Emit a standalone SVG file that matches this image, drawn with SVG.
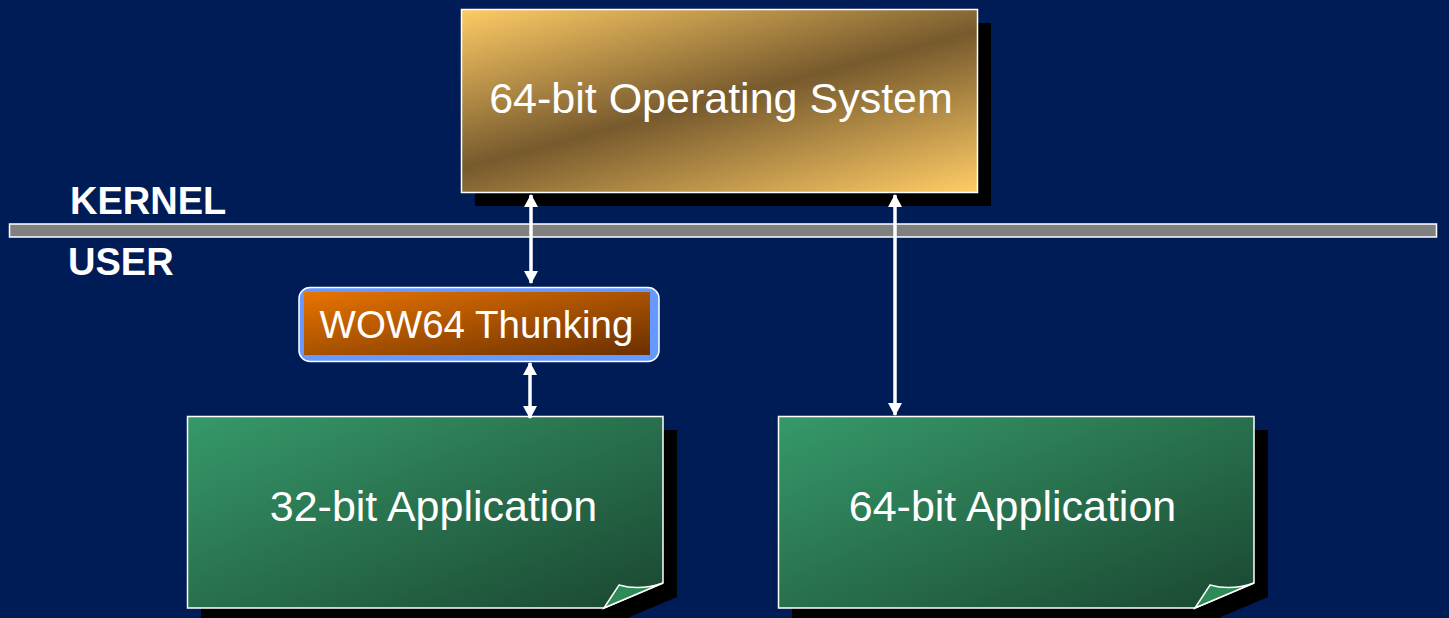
<svg xmlns="http://www.w3.org/2000/svg" width="1449" height="618" viewBox="0 0 1449 618">
  <defs>
    <linearGradient id="gold" gradientUnits="userSpaceOnUse" x1="679" y1="-50" x2="759" y2="250">
      <stop offset="0" stop-color="#FFCC66"/>
      <stop offset="0.5" stop-color="#775A2D"/>
      <stop offset="1" stop-color="#FFCC66"/>
    </linearGradient>
    <linearGradient id="green" x1="0" y1="0" x2="1" y2="1">
      <stop offset="0" stop-color="#36996A"/>
      <stop offset="1" stop-color="#1A4730"/>
    </linearGradient>
    <linearGradient id="orange" x1="0" y1="0" x2="1" y2="1">
      <stop offset="0" stop-color="#E87400"/>
      <stop offset="1" stop-color="#6A3000"/>
    </linearGradient>
    <marker id="ah" viewBox="0 0 13 14" refX="12" refY="7" markerWidth="13" markerHeight="14" markerUnits="userSpaceOnUse" orient="auto-start-reverse">
      <path d="M0,0 L13,7 L0,14 Z" fill="#FFFFFF"/>
    </marker>
    <style>
      .lbl { font-family: "Liberation Sans", Arial, sans-serif; fill: #FFFFFF; }
      .big { font-size: 43px; }
      .mid { font-size: 38.5px; }
      .bold { font-size: 38px; font-weight: bold; }
      .shadow { fill: #000000; }
      .edge { stroke: #FFFFFF; stroke-width: 1.5; }
      .conn { stroke: #FFFFFF; stroke-width: 3.5; fill: none; marker-start: url(#ah); marker-end: url(#ah); }
    </style>
  </defs>
  <rect width="1449" height="618" fill="#001C57"/>

  <g id="os">
    <rect class="shadow" x="475" y="23" width="516" height="183"/>
    <rect class="edge" x="461.5" y="9.5" width="516" height="183" fill="url(#gold)"/>
    <text class="lbl big" x="721" y="113" text-anchor="middle">64-bit Operating System</text>
  </g>

  <g id="divider">
    <rect x="9.5" y="224" width="1427" height="13" fill="#808080" stroke="#FFFFFF" stroke-width="1.5"/>
    <text class="lbl bold" x="70" y="214">KERNEL</text>
    <text class="lbl bold" x="68" y="275">USER</text>
  </g>

  <g id="wow64">
    <rect x="299" y="287.5" width="360" height="74" rx="11" fill="#6699FF" stroke="#FFFFFF" stroke-width="1.5"/>
    <rect x="304" y="292" width="346" height="63" fill="url(#orange)"/>
    <text class="lbl mid" x="476.5" y="338" text-anchor="middle">WOW64 Thunking</text>
  </g>

  <g id="app32">
    <path class="shadow" d="M201,430 H677 V597 L618,622 H201 Z"/>
    <path class="edge" d="M187.5,416.5 H663 V583 L604,608 H187.5 Z" fill="url(#green)"/>
    <path class="edge" d="M604,608 L619,585 Q640,591 663,583 Z" fill="#2E8B57"/>
    <text class="lbl big" x="433.5" y="521" text-anchor="middle">32-bit Application</text>
  </g>

  <g id="app64">
    <path class="shadow" d="M792,430 H1268 V597 L1209,622 H792 Z"/>
    <path class="edge" d="M778.5,416.5 H1254 V583 L1195,608 H778.5 Z" fill="url(#green)"/>
    <path class="edge" d="M1195,608 L1210,585 Q1231,591 1254,583 Z" fill="#2E8B57"/>
    <text class="lbl big" x="1012.5" y="521" text-anchor="middle">64-bit Application</text>
  </g>

  <g id="connectors">
    <line class="conn" x1="531" y1="195" x2="531" y2="283"/>
    <line class="conn" x1="530" y1="363" x2="530" y2="418"/>
    <line class="conn" x1="895" y1="195" x2="895" y2="415"/>
  </g>
</svg>
